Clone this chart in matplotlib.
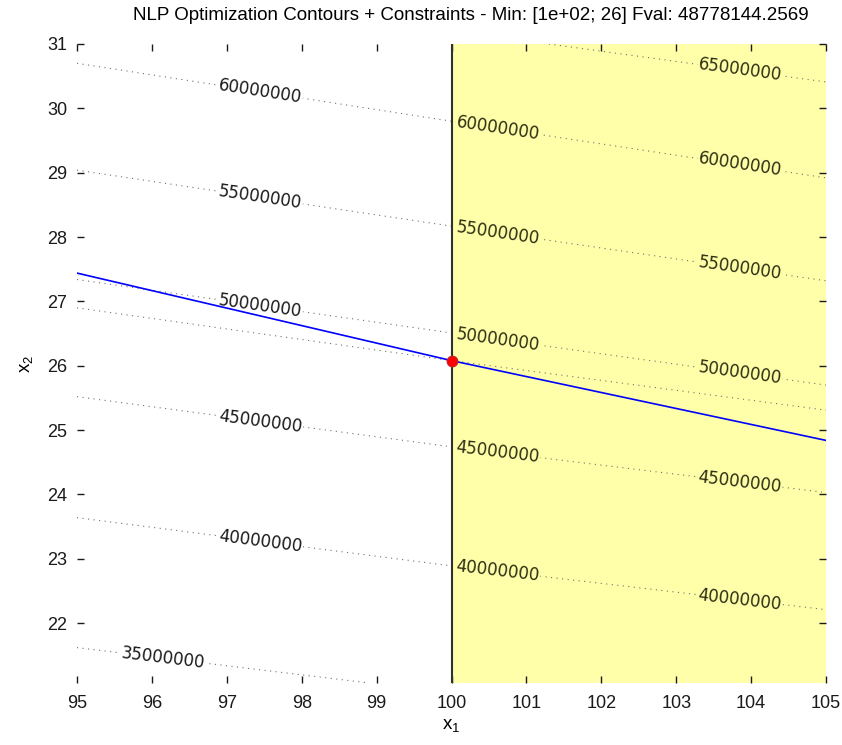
import numpy as np
import matplotlib.pyplot as plt

# contour levels and the points
level_values = [35000000, 40000000, 45000000, 50000000, 55000000, 60000000, 65000000]
contour_x = [[95, 98.9], [95, 100, 105], [95, 100, 105], [95, 100, 105],
             [95, 100, 105], [95, 100, 105], [101.3, 105]]
contour_y = [[21.62, 21.07], [23.64, 22.89, 22.21], [25.52, 24.74, 24.03],
             [27.34, 26.51, 25.70], [29.04, 28.17, 27.32], [30.70, 29.80, 28.92],
             [31.0, 30.41]]

# contour through the optimum (unlabelled)
fval_x = [95, 100, 105]
fval_y = [26.90, 26.08, 25.31]

# linear constraint and bound
constraint_x = [95, 100, 105]
constraint_y = [27.44, 26.08, 24.84]
bound_x1 = 100

opt_x1, opt_x2 = 100, 26.07
fval = 48778144.2569

x_ticks = list(range(95, 106))
y_ticks = list(range(22, 32))

fig = plt.figure(figsize=(8.42, 7.45), dpi=100)
ax = fig.add_axes([77 / 842, 1 - 683 / 745, 749 / 842, 639 / 745])
ax.set_xlim(95, 105)
ax.set_ylim(21.07, 31)

yellow = '#ffffaa'
ax.axvspan(bound_x1, 105, color=yellow, zorder=0, lw=0)

for xs, ys in zip(contour_x, contour_y):
    ax.plot(xs, ys, color='#707070', lw=0.8, dashes=(1, 4), zorder=1)
ax.plot(fval_x, fval_y, color='#707070', lw=0.8, dashes=(1, 4), zorder=1)

# contour labels placed on the lines
def add_label(xs, ys, xpos, text, bg, col):
    ypos = np.interp(xpos, xs, ys)
    p1 = ax.transData.transform((xpos - 0.5, np.interp(xpos - 0.5, xs, ys)))
    p2 = ax.transData.transform((xpos + 0.5, np.interp(xpos + 0.5, xs, ys)))
    ang = np.degrees(np.arctan2(p2[1] - p1[1], p2[0] - p1[0]))
    ax.text(xpos, ypos, text, rotation=ang, rotation_mode='anchor',
            ha='center', va='center', fontsize=12, family='DejaVu Sans',
            color=col, zorder=2,
            bbox=dict(facecolor=bg, edgecolor='none', pad=0.5))

for lev, xs, ys in zip(level_values, contour_x, contour_y):
    txt = '%d' % lev
    if lev == 35000000:
        add_label(xs, ys, 96.15, txt, 'white', '#1a1a1a')
        continue
    if lev == 65000000:
        add_label(xs, ys, 103.85, txt, yellow, '#2e2e12')
        continue
    add_label(xs, ys, 97.45, txt, 'white', '#1a1a1a')
    add_label(xs, ys, 100.62, txt, yellow, '#2e2e12')
    add_label(xs, ys, 103.85, txt, yellow, '#2e2e12')

ax.axvline(bound_x1, color='#303030', lw=1.5, zorder=3)
ax.plot(constraint_x, constraint_y, color='blue', lw=1.2, zorder=4)
ax.plot(opt_x1, opt_x2, 'o', color='red', markeredgecolor='#cc2020',
        markersize=7.5, zorder=5)

ax.set_xticks(x_ticks)
ax.set_yticks(y_ticks)
for s in ax.spines.values():
    s.set_visible(False)
ax.tick_params(direction='in', length=5, width=1, top=True, right=True,
               labelsize=13, colors='#1a1a1a')
ax.tick_params(axis='x', pad=9)
ax.tick_params(axis='y', pad=7)
for lab in ax.get_xticklabels() + ax.get_yticklabels():
    lab.set_family('Liberation Sans')

ax.set_xlabel(r'x$_\mathregular{1}$', fontsize=13.5, family='Liberation Sans',
              labelpad=4)
ax.set_ylabel(r'x$_\mathregular{2}$', fontsize=13.5, family='Liberation Sans',
              labelpad=8)
ax.set_title('NLP Optimization Contours + Constraints - Min: [1e+02; 26] Fval: %.4f' % fval,
             fontsize=13.5, family='Liberation Sans', pad=17, x=0.526)

fig.savefig('out.png', dpi=100)
